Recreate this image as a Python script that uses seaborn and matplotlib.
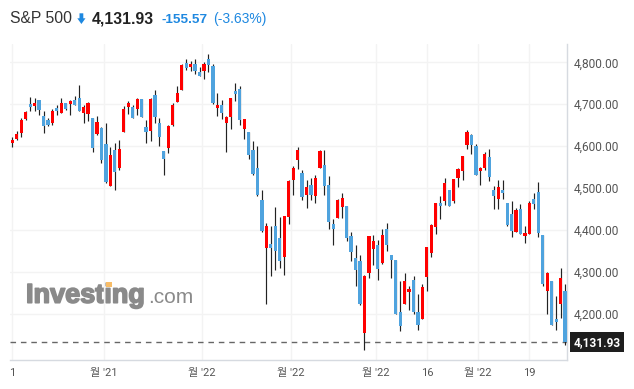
"""Daily S&P 500 candlestick chart in the Investing.com style."""
import matplotlib

matplotlib.use("Agg")
import matplotlib.patheffects as pe
import matplotlib.pyplot as plt
import numpy as np
import pandas as pd
import seaborn as sns
from matplotlib.patches import Polygon, Rectangle

# Daily OHLC (Nov 2021 - Apr 2022)
opens = [
    4608, 4616, 4632, 4665, 4700, 4696, 4710, 4671, 4662, 4655,
    4691, 4679, 4702, 4700, 4710, 4714, 4679, 4677, 4667, 4629,
    4643, 4605, 4505, 4590, 4548, 4634, 4693, 4694, 4688, 4712,
    4645, 4637, 4722, 4654, 4588, 4596, 4650, 4706, 4734, 4798,
    4789, 4796, 4777, 4779, 4807, 4791, 4691, 4699, 4656, 4670,
    4732, 4736, 4640, 4633, 4590, 4548, 4471, 4357, 4366, 4409,
    4380, 4336, 4431, 4520, 4568, 4535, 4483, 4507, 4481, 4548,
    4554, 4507, 4414, 4429, 4455, 4457, 4385, 4332, 4325, 4154,
    4297, 4354, 4363, 4321, 4402, 4341, 4328, 4203, 4223, 4252,
    4280, 4204, 4188, 4287, 4345, 4407, 4464, 4469, 4495, 4469,
    4524, 4541, 4602, 4626, 4600, 4540, 4548, 4573, 4495, 4473,
    4495, 4464, 4438, 4394, 4449, 4386, 4391, 4473, 4491, 4387,
    4255, 4278, 4187, 4222, 4254,
]
highs = [
    4621, 4636, 4667, 4684, 4718, 4716, 4710, 4684, 4667, 4689,
    4699, 4716, 4703, 4709, 4719, 4746, 4697, 4705, 4667, 4673,
    4645, 4654, 4597, 4608, 4614, 4695, 4707, 4697, 4715, 4712,
    4662, 4714, 4733, 4668, 4588, 4651, 4702, 4743, 4795, 4808,
    4804, 4808, 4788, 4800, 4819, 4797, 4726, 4709, 4673, 4716,
    4750, 4744, 4665, 4633, 4612, 4601, 4495, 4417, 4410, 4454,
    4430, 4433, 4519, 4552, 4597, 4543, 4518, 4523, 4531, 4590,
    4590, 4528, 4427, 4473, 4489, 4457, 4395, 4363, 4341, 4293,
    4385, 4387, 4377, 4401, 4417, 4341, 4328, 4277, 4298, 4267,
    4291, 4246, 4270, 4359, 4413, 4465, 4482, 4523, 4495, 4521,
    4548, 4576, 4638, 4628, 4605, 4550, 4585, 4594, 4505, 4520,
    4520, 4465, 4469, 4453, 4461, 4410, 4469, 4488, 4514, 4387,
    4299, 4278, 4242, 4309, 4270,
]
lows = [
    4597, 4614, 4622, 4662, 4683, 4684, 4674, 4632, 4648, 4651,
    4675, 4678, 4686, 4675, 4697, 4683, 4654, 4660, 4586, 4627,
    4560, 4512, 4505, 4496, 4542, 4634, 4676, 4667, 4674, 4670,
    4608, 4613, 4654, 4600, 4531, 4584, 4649, 4706, 4734, 4781,
    4780, 4773, 4768, 4761, 4776, 4700, 4673, 4664, 4585, 4640,
    4708, 4650, 4616, 4570, 4531, 4481, 4395, 4222, 4289, 4305,
    4310, 4293, 4415, 4484, 4546, 4472, 4453, 4472, 4465, 4548,
    4484, 4403, 4365, 4429, 4429, 4373, 4326, 4266, 4220, 4114,
    4286, 4316, 4280, 4318, 4350, 4286, 4200, 4158, 4223, 4210,
    4200, 4162, 4188, 4254, 4335, 4391, 4425, 4459, 4457, 4465,
    4502, 4518, 4592, 4582, 4531, 4508, 4543, 4517, 4451, 4451,
    4473, 4410, 4382, 4394, 4391, 4369, 4390, 4449, 4383, 4266,
    4200, 4174, 4162, 4189, 4125,
]
closes = [
    4614, 4630, 4662, 4681, 4694, 4703, 4686, 4648, 4650, 4683,
    4683, 4703, 4688, 4707, 4699, 4684, 4693, 4703, 4596, 4657,
    4568, 4515, 4578, 4539, 4593, 4688, 4703, 4668, 4713, 4670,
    4634, 4712, 4669, 4622, 4570, 4649, 4699, 4726, 4793, 4787,
    4796, 4780, 4768, 4797, 4793, 4702, 4697, 4678, 4670, 4714,
    4724, 4662, 4664, 4578, 4533, 4483, 4397, 4410, 4357, 4350,
    4326, 4433, 4517, 4548, 4590, 4479, 4502, 4483, 4524, 4588,
    4505, 4419, 4402, 4471, 4475, 4381, 4347, 4304, 4224, 4289,
    4385, 4373, 4306, 4387, 4363, 4328, 4200, 4171, 4278, 4258,
    4204, 4172, 4263, 4359, 4411, 4464, 4457, 4511, 4457, 4521,
    4545, 4576, 4633, 4603, 4531, 4548, 4582, 4527, 4481, 4502,
    4488, 4411, 4398, 4447, 4391, 4392, 4464, 4461, 4393, 4270,
    4297, 4174, 4180, 4286, 4131.93,
]

# Month / day labels on the x axis (positions in trading-day index)
x_tick_positions = [0, 20.5, 42.5, 62.5, 81.5, 93, 104.5, 116]
x_tick_labels = ["1", "월 '21", "월 '22", "월 '22", "월 '22", "16", "월 '22", "19"]
y_ticks = [4200, 4300, 4400, 4500, 4600, 4700, 4800]

last_price = 4131.93
price_change = -155.57
pct_change = -3.63

UP_COLOR = "#ff0000"
DOWN_COLOR = "#4fa3de"
HEADER_BLUE = "#1e88e0"
AXIS_COLOR = "#d6dae0"
GRID_COLOR = "#f3f3f3"
LOGO_GRAY = "#8a8a8a"

W, H = 634, 389


def px(x, y):
    """Convert pixel coordinates (top-left origin) to figure fractions."""
    return x / W, 1 - y / H


sns.set_theme(style="white")
plt.rcParams["font.family"] = ["Roboto", "Noto Sans CJK KR", "DejaVu Sans"]

candles = pd.DataFrame({"open": opens, "high": highs, "low": lows, "close": closes})
candles["idx"] = np.arange(len(candles))
candles["up"] = candles["close"] >= candles["open"]

fig = plt.figure(figsize=(W / 100, H / 100), dpi=100)
ax = fig.add_axes([10 / W, 29 / H, 557.3 / W, 316 / H])

# Last price reference line
ax.axhline(last_price, color="#666666", lw=1.0, dashes=(4, 3.5), zorder=1.5)

# Wicks then bodies
ax.vlines(candles["idx"], candles["low"], candles["high"], color="#222222", lw=0.85, zorder=2)
ax.bar(
    candles["idx"],
    (candles["close"] - candles["open"]).abs(),
    bottom=candles[["open", "close"]].min(axis=1),
    width=0.72,
    color=np.where(candles["up"], UP_COLOR, DOWN_COLOR),
    linewidth=0,
    zorder=3,
)

ax.set_xlim(-0.52, 124.5)
ax.set_ylim(4089.5, 4843.7)

# Axes styling
ax.yaxis.tick_right()
ax.set_yticks(y_ticks)
ax.set_yticklabels([f"{v:,.2f}" for v in y_ticks])
ax.set_xticks(x_tick_positions)
ax.set_xticklabels(x_tick_labels)
ax.grid(True, color=GRID_COLOR, lw=1)
ax.set_axisbelow(True)
for side in ["left", "top"]:
    ax.spines[side].set_visible(False)
for side in ["right", "bottom"]:
    ax.spines[side].set_color(AXIS_COLOR)
    ax.spines[side].set_linewidth(1)
ax.tick_params(axis="y", length=0, pad=4.5, labelsize=8.6, labelcolor="#555555")
ax.tick_params(axis="x", length=3, width=1, color=AXIS_COLOR, pad=3,
               labelsize=8, labelcolor="#555555")

# Last price tag on the right axis
ax.annotate(
    f"{last_price:,.2f}",
    xy=(1, last_price),
    xycoords=ax.get_yaxis_transform(),
    xytext=(4.5, 0),
    textcoords="offset points",
    ha="left",
    va="center",
    color="white",
    fontweight="bold",
    fontsize=8.6,
    bbox=dict(boxstyle="square,pad=0.3", fc="#1e1e1e", ec="none"),
    annotation_clip=False,
)

# Watermark
ax.text(*px(26, 302.7), "Investing", transform=fig.transFigure, family="Liberation Sans",
        fontweight="bold", fontsize=19.5, color=LOGO_GRAY, va="baseline", zorder=0.5,
        path_effects=[pe.withStroke(linewidth=1.2, foreground=LOGO_GRAY)])
ax.text(*px(148, 302.7), ".com", transform=fig.transFigure, family="Liberation Sans",
        fontsize=15, color=LOGO_GRAY, va="baseline", zorder=0.5)
dot_x, dot_y = px(105.5, 287)
fig.patches.append(Rectangle((dot_x, dot_y), 6 / W, 5.5 / H, transform=fig.transFigure,
                             fc="#f8bd68", ec="none", zorder=5))

# Header
baseline = px(0, 23.3)[1]
fig.text(10 / W, baseline, "S&P 500", family="Liberation Sans", fontsize=11.3,
         color="#333333", va="baseline")
arrow = [px(79.5, 13.3), px(83.3, 13.3), px(83.3, 18.3), px(85.5, 18.3),
         px(81.4, 24), px(77.3, 18.3), px(79.5, 18.3)]
fig.patches.append(Polygon(arrow, closed=True, transform=fig.transFigure,
                           fc=HEADER_BLUE, ec="none"))
fig.text(92 / W, baseline, f"{last_price:,.2f}", family="Liberation Sans", fontsize=11.3,
         fontweight="bold", color="#222222", va="baseline")
fig.text(162 / W, baseline, f"{price_change:.2f}", family="Liberation Sans", fontsize=9.7,
         fontweight="bold", color=HEADER_BLUE, va="baseline")
fig.text(213 / W, baseline, f"({pct_change:.2f}%)", family="Liberation Sans", fontsize=10,
         color=HEADER_BLUE, va="baseline")

fig.savefig("out.png", dpi=100)
plt.close(fig)
